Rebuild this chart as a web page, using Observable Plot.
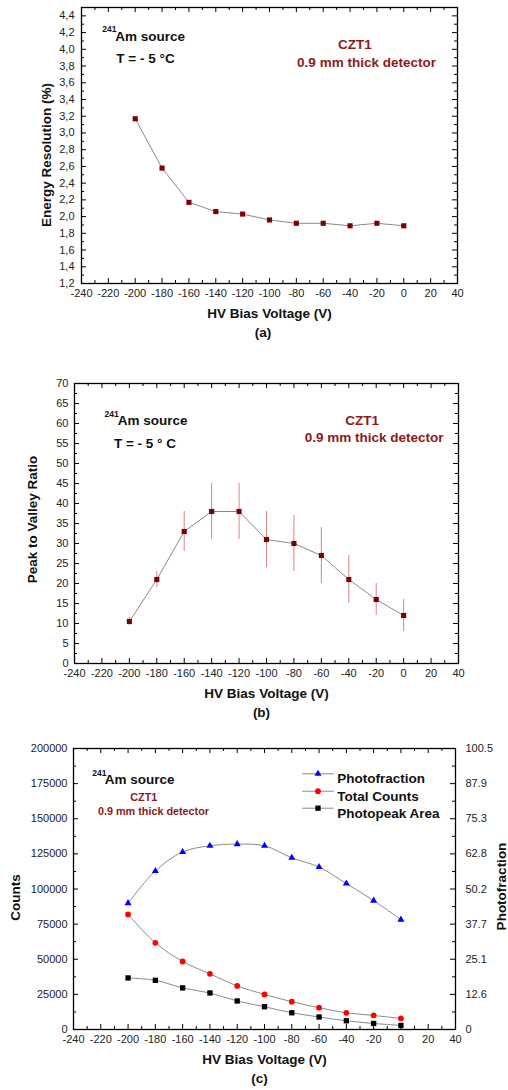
<!DOCTYPE html>
<html><head><meta charset="utf-8">
<script src="https://cdn.jsdelivr.net/npm/d3@7"></script>
<script src="https://cdn.jsdelivr.net/npm/@observablehq/plot@0.6"></script>
<style>
html,body{margin:0;padding:0;background:#fff;}
#chart{width:508px;}
#chart svg{display:block;}
</style></head><body><div id="chart"></div>
<script>
// ---------- data ----------
const voltage = [-200, -180, -160, -140, -120, -100, -80, -60, -40, -20, 0];
const energyResolution = [3.17, 2.58, 2.17, 2.06, 2.03, 1.96, 1.92, 1.92, 1.89, 1.92, 1.89];
const peakToValley = [10.5, 21, 33, 38, 38, 31, 30, 27, 21, 16, 12];
const peakToValleyErr = [1, 2, 5, 7, 7, 7, 7, 7, 6, 4, 4];
const photofraction = [45.2, 56.7, 63.5, 65.7, 66.3, 65.7, 61.4, 58.1, 52.2, 46.1, 39.3];
const totalCounts = [81900, 61700, 48400, 39600, 31000, 25000, 19800, 15500, 11900, 10000, 7900];
const photopeakArea = [36700, 35000, 29600, 26000, 20300, 16200, 11900, 8900, 6200, 4300, 2900];
const seriesNames = ["Photofraction", "Total Counts", "Photopeak Area"];

const xTicks = [-240, -220, -200, -180, -160, -140, -120, -100, -80, -60, -40, -20, 0, 20, 40];
const energyTicks = [1.2, 1.4, 1.6, 1.8, 2.0, 2.2, 2.4, 2.6, 2.8, 3.0, 3.2, 3.4, 3.6, 3.8, 4.0, 4.2, 4.4];
const pvTicks = [0, 5, 10, 15, 20, 25, 30, 35, 40, 45, 50, 55, 60, 65, 70];
const countTicks = [0, 25000, 50000, 75000, 100000, 125000, 150000, 175000, 200000];
const photofractionTickLabels = ["0", "12.6", "25.1", "37.7", "50.2", "62.8", "75.3", "87.9", "100.5"];
const photofractionMax = 100.5; // right axis top
const countsMax = 200000;       // left axis top

// ---------- helpers ----------
const FONT = "'Liberation Sans', Arial, Helvetica, sans-serif";
const DARKRED = "#8b1a1a";
const LINE = "#7d7d7d";
const xMinor = d3.range(-230, 40, 20);

function frameTicks(xMaj, xMin, yMaj, yMin, W, H) {
  const M = 5, m = 3;
  return [
    Plot.ruleX(xMaj, {x: d => d, insetTop: H - M, stroke: "#000"}),
    Plot.ruleX(xMaj, {x: d => d, insetBottom: H - M, stroke: "#000"}),
    Plot.ruleX(xMin, {x: d => d, insetTop: H - m, stroke: "#000"}),
    Plot.ruleX(xMin, {x: d => d, insetBottom: H - m, stroke: "#000"}),
    Plot.ruleY(yMaj, {y: d => d, insetRight: W - M, stroke: "#000"}),
    Plot.ruleY(yMaj, {y: d => d, insetLeft: W - M, stroke: "#000"}),
    Plot.ruleY(yMin, {y: d => d, insetRight: W - m, stroke: "#000"}),
    Plot.ruleY(yMin, {y: d => d, insetLeft: W - m, stroke: "#000"}),
    Plot.frame({stroke: "#000", strokeWidth: 1.3})
  ];
}
function label(t, o) {
  return Plot.text([t], {fontFamily: FONT, fontWeight: "bold", fontSize: 13.5, fill: "#111", textAnchor: "middle", ...o});
}
function xAxisBlock(tag, dxTag) {
  return [
    Plot.axisX(xTicks, {tickSize: 0, tickPadding: 6, fontSize: 11, label: null, fill: "#222", tickFormat: d => String(d)}),
    label("HV Bias Voltage (V)", {frameAnchor: "bottom", dy: 34}),
    label(tag, {frameAnchor: "bottom", dx: dxTag, dy: 53})
  ];
}
const chart = document.getElementById("chart");

// ---------- panel (a) ----------
{
  const W = 508, Hh = 350, mt = 7, mb = 67, ml = 81, mr = 51;
  const iw = W - ml - mr, ih = Hh - mt - mb;
  const rows = voltage.map((v, i) => ({v, y: energyResolution[i]}));
  chart.append(Plot.plot({
    width: W, height: Hh, marginTop: mt, marginBottom: mb, marginLeft: ml, marginRight: mr,
    style: {fontFamily: FONT, fontSize: "11px", background: "#fff"},
    x: {domain: [-240, 40]},
    y: {domain: [1.2, 4.5]},
    marks: [
      ...frameTicks(xTicks, xMinor, energyTicks, d3.range(1.3, 4.55, 0.2), iw, ih),
      Plot.axisY(energyTicks, {tickSize: 0, tickPadding: 7, fontSize: 11, label: null, fill: "#222",
        tickFormat: d => d.toFixed(1).replace(".", ",")}),
      ...xAxisBlock("(a)", -6.5),
      label("Energy Resolution (%)", {frameAnchor: "left", dx: -35, dy: 9.5, rotate: -90}),
      Plot.line(rows, {x: "v", y: "y", stroke: LINE, strokeWidth: 0.9}),
      Plot.dot(rows, {x: "v", y: "y", symbol: "square", r: 2.9, fill: "#800000"}),
      label("241", {frameAnchor: "top-left", textAnchor: "start", dx: 20.7, dy: 18, fontSize: 8.5}),
      label("Am source", {frameAnchor: "top-left", textAnchor: "start", dx: 33.7, dy: 23.7}),
      label("T = - 5 °C", {frameAnchor: "top-left", dx: 64, dy: 45.7}),
      label("CZT1", {frameAnchor: "top-left", dx: 273.3, dy: 32.3, fill: DARKRED}),
      label("0.9 mm thick detector", {frameAnchor: "top-left", dx: 285, dy: 49.7, fill: DARKRED})
    ]
  }));
}

// ---------- panel (b) ----------
{
  const W = 508, Hh = 375, mt = 33, mb = 62, ml = 74, mr = 50;
  const iw = W - ml - mr, ih = Hh - mt - mb;
  const rows = voltage.map((v, i) => ({v, y: peakToValley[i], e: peakToValleyErr[i]}));
  chart.append(Plot.plot({
    width: W, height: Hh, marginTop: mt, marginBottom: mb, marginLeft: ml, marginRight: mr,
    style: {fontFamily: FONT, fontSize: "11px", background: "#fff"},
    x: {domain: [-240, 40]},
    y: {domain: [0, 70]},
    marks: [
      ...frameTicks(xTicks, xMinor, pvTicks, d3.range(2.5, 70, 5), iw, ih),
      Plot.axisY(pvTicks, {tickSize: 0, tickPadding: 6, fontSize: 11, label: null, fill: "#222"}),
      ...xAxisBlock("(b)", -5),
      label("Peak to Valley Ratio", {frameAnchor: "left", dx: -42, dy: -4, rotate: -90}),
      Plot.ruleX(rows, {x: "v", y1: d => d.y - d.e, y2: d => d.y + d.e, stroke: "#d98585", strokeWidth: 1}),
      Plot.line(rows, {x: "v", y: "y", stroke: LINE, strokeWidth: 0.9}),
      Plot.dot(rows, {x: "v", y: "y", symbol: "square", r: 2.9, fill: "#800000"}),
      label("241", {frameAnchor: "top-left", textAnchor: "start", dx: 30, dy: 27, fontSize: 8.5}),
      label("Am source", {frameAnchor: "top-left", textAnchor: "start", dx: 43.3, dy: 32}),
      label("T = - 5 ° C", {frameAnchor: "top-left", dx: 70.5, dy: 55.3}),
      label("CZT1", {frameAnchor: "top-left", dx: 287.7, dy: 32, fill: DARKRED}),
      label("0.9 mm thick detector", {frameAnchor: "top-left", dx: 299.7, dy: 49.3, fill: DARKRED})
    ]
  }));
}

// ---------- panel (c) ----------
{
  const W = 508, Hh = 365, mt = 23, mb = 61, ml = 73, mr = 53;
  const iw = W - ml - mr, ih = Hh - mt - mb;
  const k = countsMax / photofractionMax;
  const rows = voltage.map((v, i) => ({v, pf: photofraction[i] * k, tc: totalCounts[i], pa: photopeakArea[i]}));
  const legendLine = {draw(ctx) { ctx.moveTo(-15.8, 0); ctx.lineTo(15.8, 0); }};
  const styles = [
    {symbol: "triangle", fill: "#0000ff", r: 2.6, key: "pf"},
    {symbol: "circle", fill: "#ff0000", r: 2.9, key: "tc"},
    {symbol: "square", fill: "#000000", r: 3.0, key: "pa"}
  ];
  const legendDy = [25.3, 42.7, 59.7];
  const marks = [
    ...frameTicks(xTicks, xMinor, countTicks, d3.range(12500, 200000, 25000), iw, ih),
    Plot.axisY(countTicks, {tickSize: 0, tickPadding: 6, fontSize: 11, label: null, fill: "#222", tickFormat: d => String(d)}),
    Plot.axisY(countTicks, {anchor: "right", tickSize: 0, tickPadding: 10, fontSize: 11, label: null, fill: "#222",
      tickFormat: d => photofractionTickLabels[countTicks.indexOf(d)]}),
    ...xAxisBlock("(c)", -5),
    label("Counts", {frameAnchor: "left", dx: -58, dy: 8.5, rotate: -90}),
    label("Photofraction", {frameAnchor: "right", dx: 46, dy: -2.5, rotate: -90})
  ];
  styles.forEach(s => {
    marks.push(Plot.line(rows, {x: "v", y: s.key, stroke: LINE, strokeWidth: 0.9, curve: "catmull-rom"}));
  });
  styles.forEach(s => {
    marks.push(Plot.dot(rows, {x: "v", y: s.key, symbol: s.symbol, r: s.r, fill: s.fill}));
  });
  seriesNames.forEach((name, i) => {
    const s = styles[i];
    marks.push(Plot.dot([name], {frameAnchor: "top-left", dx: 244.5, dy: legendDy[i], symbol: legendLine, r: 1, fill: "none", stroke: LINE, strokeWidth: 0.9}));
    marks.push(Plot.dot([name], {frameAnchor: "top-left", dx: 244.5, dy: legendDy[i], symbol: s.symbol, r: s.r, fill: s.fill}));
    marks.push(label(name, {frameAnchor: "top-left", textAnchor: "start", dx: 263.7, dy: legendDy[i]}));
  });
  marks.push(
    label("241", {frameAnchor: "top-left", textAnchor: "start", dx: 18.7, dy: 21.3, fontSize: 8.5}),
    label("Am source", {frameAnchor: "top-left", textAnchor: "start", dx: 31.3, dy: 26}),
    label("CZT1", {frameAnchor: "top-left", dx: 70.3, dy: 44.7, fill: DARKRED, fontSize: 10.8}),
    label("0.9 mm thick detector", {frameAnchor: "top-left", dx: 80, dy: 59.3, fill: DARKRED, fontSize: 10.8})
  );
  chart.append(Plot.plot({
    width: W, height: Hh, marginTop: mt, marginBottom: mb, marginLeft: ml, marginRight: mr,
    style: {fontFamily: FONT, fontSize: "11px", background: "#fff"},
    x: {domain: [-240, 40]},
    y: {domain: [0, countsMax]},
    marks
  }));
}
</script></body></html>
